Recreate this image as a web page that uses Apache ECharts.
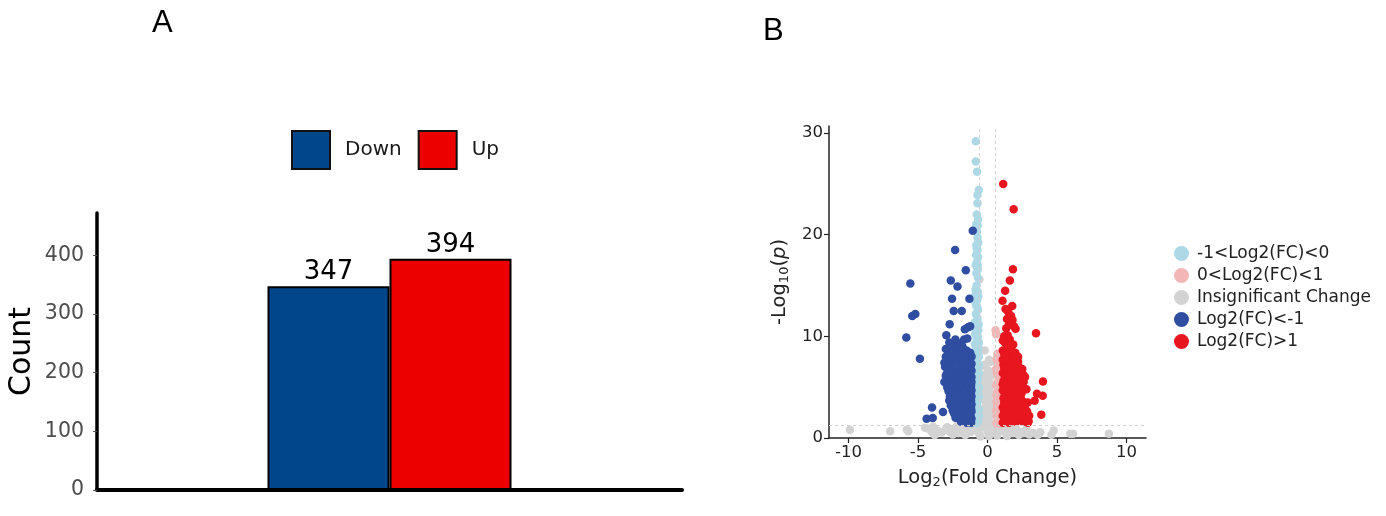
<!DOCTYPE html>
<html>
<head>
<meta charset="utf-8">
<title>DEG count and volcano plot</title>
<script src="https://cdn.jsdelivr.net/npm/echarts@6/dist/echarts.min.js"></script>
<style>
html, body { margin: 0; padding: 0; background: #fff; }
#main { width: 1386px; height: 516px; }
</style>
</head>
<body>
<div id="main"></div>
<script>
/**
 * 数据 (A: 柱状图)
 */
var barCategories = [''];
var barNames = ['Down', 'Up'];
var downCount = [347];
var upCount = [394];
var countTicks = [0, 100, 200, 300, 400];

/**
 * 数据 (B: 火山图) [log2FC, -log10(p)]
 */
var volcanoNames = ['-1<Log2(FC)<0', '0<Log2(FC)<1', 'Insignificant Change', 'Log2(FC)<-1', 'Log2(FC)>1'];
var fcTicks = [-10, -5, 0, 5, 10];
var pTicks = [0, 10, 20, 30];
var fcCut = [-0.585, 0.585];
var pCut = [1.301];

var weakDown = [
	[-0.84,29.2],[-0.84,27.2],[-0.75,26.2],[-0.63,24.4],[-0.72,23.9],[-0.72,23.1],[-0.77,22.0],[-0.82,21.0],
	[-0.7,20.9],[-0.72,19.7],[-0.66,19.2],[-0.8,19.0],[-0.72,18.5],[-0.82,18.0],[-0.68,17.8],[-0.76,17.3],
	[-0.85,17.0],[-0.7,16.6],[-0.78,15.0],[-0.86,14.6],[-0.7,14.4],[-0.9,14.0],[-0.75,13.5],[-0.8,13.0],
	[-0.68,12.6],[-0.84,12.2],[-0.72,11.8],[-0.9,11.4],[-0.78,11.0],[-0.66,10.6],[-0.88,10.2],[-0.74,9.8],
	[-0.62,9.4],[-0.9,9.2],[-0.8,8.8],[-0.68,8.4],[-0.9,8.0],[-0.75,7.6],[-0.62,7.2],[-0.9,6.9],
	[-0.82,6.5],[-0.68,6.1],[-0.9,5.8],[-0.76,5.4],[-0.63,5.0],[-0.9,4.7],[-0.82,4.3],[-0.68,3.9],
	[-0.9,3.6],[-0.76,3.2],[-0.62,2.8],[-0.9,2.5],[-0.82,2.2],[-0.68,1.9],[-0.9,1.6],[-0.75,1.45],
	[-0.7,15.8],[-0.8,16.2],[-0.66,13.9],[-0.86,13.3],[-0.74,12.9],[-0.64,11.2],[-0.84,10.6],[-0.7,10.0],
	[-0.8,9.5],[-0.66,8.9],[-0.86,8.5],[-0.72,8.1],[-0.82,7.3],[-0.68,6.8],[-0.88,6.2],[-0.72,5.7],
	[-0.84,5.1],[-0.7,4.5],[-0.88,4.0],[-0.72,3.5],[-0.84,2.9],[-0.7,2.4],[-0.86,1.9],[-0.7,1.5],
	[-0.76,20.3],[-0.68,21.5],[-0.78,18.7],[-0.7,17.0],[-0.62,6.4],[-0.62,4.1],[-0.62,2.2],[-0.62,8.0]
];
var weakUp = [
	[0.58,10.6],[0.62,10.2],[0.72,8.3],[0.85,8.0],[0.65,7.8],[0.9,7.5],[0.75,7.2],[0.62,6.8],
	[0.88,6.6],[0.7,6.2],[0.9,5.9],[0.8,5.6],[0.63,5.2],[0.9,4.9],[0.72,4.6],[0.9,4.3],
	[0.82,4.0],[0.65,3.6],[0.9,3.3],[0.75,3.0],[0.62,2.7],[0.88,2.4],[0.7,2.1],[0.9,1.9],
	[0.8,1.6],[0.64,1.45],[0.88,1.4],[0.7,7.6],[0.8,7.0],[0.68,6.4],[0.85,5.8],[0.7,5.4],
	[0.82,4.8],[0.66,4.2],[0.86,3.7],[0.7,3.2],[0.82,2.6],[0.66,2.2],[0.86,1.7],[0.75,8.0]
];
var insignificant = [
	[-0.58,15.6],[-0.2,7.2],[-0.14,7.0],[0.25,7.5],[-0.2,6.2],[0.1,6.6],[0.2,6.0],[-0.25,5.6],
	[-0.1,5.2],[0.15,5.0],[0.25,5.3],[-0.25,4.6],[-0.05,4.3],[0.2,4.4],[-0.2,3.8],[-0.1,3.5],
	[0.1,3.6],[0.25,3.3],[-0.25,2.9],[0.0,2.7],[0.2,2.8],[-0.25,2.3],[-0.1,2.1],[0.15,2.0],
	[0.25,2.2],[-0.2,1.7],[0.05,1.6],[0.2,1.5],[-0.15,1.4],[0.1,1.35],[0.1,7.7],[-0.2,8.6],
	[-9.9,0.82],[-7.0,0.66],[-5.8,0.8],[-5.7,0.66],[-4.25,0.92],[-4.0,0.6],[-3.6,0.75],[-3.3,0.55],
	[-3.0,0.85],[-2.7,0.6],[-2.4,0.9],[-2.1,0.5],[-1.8,0.75],[-1.5,1.0],[-1.2,0.6],[-0.9,0.9],
	[-0.6,0.45],[-0.3,1.1],[0.0,0.7],[0.3,0.95],[0.6,0.5],[0.9,1.05],[1.2,0.65],[1.5,0.9],
	[1.8,0.5],[2.1,0.8],[2.4,0.6],[2.6,0.5],[3.0,0.35],[3.3,0.5],[3.6,0.3],[3.8,0.56],
	[4.6,0.33],[4.76,0.75],[5.96,0.43],[6.15,0.43],[8.73,0.43],[-2.2,1.2],[-1.0,1.2],[1.0,1.25],
	[0.1,0.2],[-0.5,0.15],[0.7,0.25],[-1.6,0.3],[1.4,0.2],[-3.8,0.3],[-4.5,1.0],[-3.9,1.1],
	[-2.9,1.05],[-2.5,0.35],[-1.35,0.95],[-0.75,0.7],[0.45,0.8],[1.65,1.1],[2.25,0.3],[2.8,0.9],
	[-0.05,4.9],[0.15,3.9],[-0.05,5.9],[0.2,6.4]
];
var strongDown = [
	[-1.06,20.4],[-2.33,18.5],[-1.56,16.5],[-5.55,15.2],[-2.64,15.5],[-2.16,14.9],[-1.30,13.7],[-2.55,13.7],
	[-2.43,12.5],[-1.85,12.5],[-5.19,12.2],[-5.41,12.0],[-2.72,11.2],[-1.40,10.9],[-1.63,10.7],[-1.25,11.0],
	[-5.84,9.9],[-2.96,10.1],[-2.31,9.7],[-1.68,9.7],[-1.45,9.8],[-3.00,8.75],[-1.95,8.6],[-4.86,7.8],
	[-3.10,7.4],[-3.10,5.5],[-2.64,3.2],[-3.99,3.0],[-3.20,2.56],[-4.38,1.9],[-3.94,1.97],
	[-1.18,1.5],[-1.3,1.6],[-1.5,1.5],[-1.7,1.7],[-1.9,1.6],[-1.2,2.1],[-1.45,2.3],[-1.65,2.2],
	[-1.85,2.5],[-2.05,2.4],[-1.18,2.9],[-1.35,3.1],[-1.6,2.9],[-1.8,3.2],[-2.0,3.0],[-2.2,3.4],
	[-1.18,3.7],[-1.3,3.9],[-1.5,3.6],[-1.75,3.9],[-1.95,4.0],[-2.15,4.2],[-1.2,4.5],[-1.4,4.6],
	[-1.65,4.4],[-1.85,4.8],[-2.05,4.7],[-1.18,5.2],[-1.3,5.4],[-1.55,5.1],[-1.75,5.5],[-1.95,5.3],
	[-2.2,5.6],[-1.2,6.0],[-1.45,6.2],[-1.65,5.9],[-1.85,6.3],[-2.1,6.1],[-1.18,6.7],[-1.35,6.9],
	[-1.55,6.6],[-1.8,7.0],[-2.0,6.8],[-1.25,7.5],[-1.5,7.4],[-1.7,7.7],[-1.95,7.5],[-1.18,8.1],
	[-1.4,8.0],[-1.6,8.3],[-1.15,4.1],[-1.15,2.6],[-1.15,6.0],[-1.15,7.3],
	[-2.3,2.0],[-2.5,2.7],[-2.35,3.0],[-2.45,3.8],[-2.7,4.1],[-2.4,4.5],[-2.6,4.8],[-2.9,5.0],
	[-2.3,5.2],[-2.5,5.6],[-2.75,5.9],[-3.0,6.1],[-2.35,6.0],[-2.6,6.4],[-2.85,6.7],[-3.05,7.0],
	[-2.4,6.8],[-2.65,7.2],[-2.9,7.6],[-2.3,7.5],[-2.55,7.9],[-2.8,8.2],[-2.35,8.3],[-2.6,8.6],
	[-2.2,8.9],[-2.45,9.2],[-2.75,9.4],[-2.1,7.9],[-1.9,8.5],[-2.05,9.3],[-1.8,9.0],[-2.25,3.7],
	[-2.6,3.5],[-2.2,2.7],[-2.8,4.6],
	[-1.22,1.8],[-1.4,1.9],[-1.6,1.8],[-1.8,2.0],[-2.0,1.9],[-1.25,2.6],[-1.55,2.6],[-1.75,2.8],
	[-1.95,2.7],[-1.22,3.4],[-1.45,3.4],[-1.7,3.5],[-1.9,3.6],[-2.1,3.7],[-1.22,4.1],[-1.45,4.2],
	[-1.65,4.0],[-1.85,4.3],[-2.25,4.8],[-1.2,4.8],[-1.5,5.0],[-1.7,4.9],[-2.0,5.2],[-1.22,5.7],
	[-1.4,5.4],[-1.6,5.6],[-1.85,5.8],[-2.05,5.7],[-1.3,6.4],[-1.55,6.2],[-1.75,6.4],[-1.95,6.1],
	[-1.22,7.1],[-1.45,7.0],[-1.65,7.2],[-1.9,7.1],[-1.3,7.8],[-1.55,7.8],[-1.8,7.9],[-1.15,8.0],
	[-1.25,8.4],[-1.5,8.6],[-1.15,1.9],[-1.15,3.3],[-1.15,4.7],[-1.15,5.5],[-1.15,6.6],[-2.4,2.4],
	[-2.55,3.2],[-2.75,3.7],[-2.5,4.2],[-2.7,5.3],[-2.95,5.5],[-2.45,6.4],[-2.7,6.8],[-2.95,6.3],
	[-2.5,7.5],[-2.75,7.8],[-3.0,8.0],[-2.15,2.0],[-2.3,2.9]
];
var strongUp = [
	[1.13,25.0],[1.88,22.5],[1.83,16.6],[1.61,15.5],[1.27,14.5],[1.08,13.5],[1.78,13.0],[1.3,12.7],
	[1.5,12.4],[1.7,12.0],[1.4,11.7],[1.8,11.6],[1.55,11.3],[1.9,11.0],[3.49,10.3],[2.02,10.75],
	[1.35,10.8],[1.2,10.0],[1.45,10.1],[1.6,9.7],[1.85,9.2],[1.25,9.4],[1.7,8.9],[3.99,5.57],
	[3.56,4.36],[3.97,4.16],[3.39,3.67],[3.87,2.3],[2.6,6.2],[2.48,5.1],[2.96,1.64],
	[1.1,1.5],[1.3,1.6],[1.55,1.5],[1.8,1.7],[2.05,1.6],[2.3,1.8],[2.55,1.6],[2.75,1.7],
	[1.1,2.2],[1.35,2.4],[1.6,2.1],[1.85,2.5],[2.1,2.3],[2.4,2.6],[2.65,2.4],[1.1,3.0],
	[1.3,3.2],[1.55,2.9],[1.8,3.3],[2.05,3.1],[2.3,3.4],[2.55,3.6],[1.15,3.9],[1.4,4.1],
	[1.65,3.8],[1.9,4.2],[2.15,4.0],[2.45,4.4],[1.1,4.7],[1.3,4.9],[1.55,4.6],[1.8,5.0],
	[2.05,4.8],[2.3,5.3],[2.6,5.5],[1.15,5.6],[1.4,5.8],[1.65,5.5],[1.9,5.9],[2.15,5.7],
	[2.4,6.1],[1.1,6.4],[1.3,6.6],[1.55,6.3],[1.8,6.8],[2.05,6.5],[2.25,7.0],[1.15,7.2],
	[1.4,7.4],[1.65,7.1],[1.9,7.6],[2.1,7.3],[1.25,8.0],[1.5,8.2],[1.75,7.9],[2.0,8.4],
	[1.1,8.6],[1.35,8.7],[2.2,8.0],[2.5,6.8],[2.7,6.0],[2.8,4.8],[2.9,3.5],[2.7,2.9],
	[3.0,2.2],[1.1,5.3],[1.1,7.7],
	[1.2,1.8],[1.45,1.9],[1.7,1.8],[1.95,2.0],[2.2,1.9],[2.45,2.0],[2.65,1.9],[1.2,2.6],
	[1.5,2.6],[1.75,2.8],[2.0,2.7],[2.25,2.8],[2.5,3.0],[1.2,3.5],[1.45,3.5],[1.7,3.6],
	[1.95,3.7],[2.2,3.6],[2.4,3.9],[1.25,4.3],[1.55,4.3],[1.8,4.5],[2.05,4.4],[2.3,4.6],
	[1.2,5.1],[1.45,5.2],[1.7,5.3],[1.95,5.4],[2.2,5.1],[2.45,5.6],[1.25,6.0],[1.55,6.0],
	[1.8,6.2],[2.05,6.0],[2.3,6.4],[1.2,6.9],[1.45,6.9],[1.7,6.6],[1.95,7.0],[2.2,7.5],
	[1.3,7.7],[1.6,7.7],[1.85,8.1],[1.2,8.3],[1.45,9.0],[1.1,9.6],[2.85,2.6],[2.9,1.5],
	[2.6,4.9]
];

var volcanoData = [weakDown, weakUp, insignificant, strongDown, strongUp];
var volcanoColors = ['#add8e6', '#f2b6b6', '#d3d3d3', '#2f4ea1', '#e8161f'];
//绘制层次: 灰色在最下, 显著点在最上
var volcanoZ = [3, 3, 2, 4, 4];

var fontA = "'DejaVu Sans', 'Liberation Sans', sans-serif";
var fontB = "'DejaVu Sans', sans-serif";

var myChart = echarts.init(document.getElementById('main'), null, {renderer: 'canvas'});

//火山图散点系列
var scatterSeries = [];
for (var i = 0; i < volcanoNames.length; i++) {
	scatterSeries.push({
		name: volcanoNames[i],
		type: 'scatter',
		xAxisIndex: 1,
		yAxisIndex: 1,
		z: volcanoZ[i],
		symbolSize: 8.5,
		itemStyle: {color: volcanoColors[i], opacity: 1},
		data: volcanoData[i]
	});
}
//阈值虚线
scatterSeries[2].markLine = {
	silent: true,
	symbol: 'none',
	label: {show: false},
	lineStyle: {color: '#cfcfcf', type: [3, 3], width: 1},
	data: [
		{xAxis: fcCut[0]},
		{xAxis: fcCut[1]},
		{yAxis: pCut[0]}
	]
};

var subStyle = {fontFamily: fontB, fontSize: 13, color: '#222', verticalAlign: 'bottom', padding: [9, 0, 0, 0]};

var option = {
	backgroundColor: '#fff',
	animation: false,
	title: [
		{text: 'A', left: 147, top: 3, textStyle: {fontFamily: 'Liberation Sans', fontSize: 31, fontWeight: 'normal', color: '#000'}},
		{text: 'B', left: 758, top: 11, textStyle: {fontFamily: 'Liberation Sans', fontSize: 31, fontWeight: 'normal', color: '#000'}}
	],
	legend: [
		{
			data: barNames,
			left: 286,
			top: 125,
			icon: 'rect',
			itemWidth: 38,
			itemHeight: 38,
			itemGap: 16,
			itemStyle: {borderColor: '#111', borderWidth: 2},
			textStyle: {fontFamily: fontA, fontSize: 20, color: '#1a1a1a', padding: [0, 0, 0, 10]}
		},
		{
			data: volcanoNames,
			orient: 'vertical',
			left: 1169,
			top: 240,
			icon: 'circle',
			itemWidth: 15,
			itemHeight: 15,
			itemGap: 5,
			textStyle: {fontFamily: fontB, fontSize: 17, lineHeight: 17, color: '#222', padding: [0, 0, 0, 3]}
		}
	],
	grid: [
		{left: 97, top: 213, width: 585, height: 277, containLabel: false},
		{left: 829, top: 126, width: 317, height: 312, containLabel: false}
	],
	xAxis: [
		{
			gridIndex: 0,
			type: 'category',
			data: barCategories,
			axisLine: {lineStyle: {color: '#000', width: 4}},
			axisTick: {alignWithLabel: true, length: 8, lineStyle: {color: '#444', width: 1.2}},
			axisLabel: {show: false},
			splitLine: {show: false}
		},
		{
			gridIndex: 1,
			type: 'value',
			min: -11.4,
			max: 11.4,
			name: 'Log{sub|2}(Fold Change)',
			nameLocation: 'middle',
			nameGap: 29,
			nameTextStyle: {fontFamily: fontB, fontSize: 19.5, color: '#222', rich: {sub: subStyle}},
			axisLine: {onZero: false, lineStyle: {color: '#222', width: 1.5}},
			axisTick: {length: 5, customValues: fcTicks, lineStyle: {color: '#222', width: 1.2}},
			axisLabel: {customValues: fcTicks, fontFamily: fontB, fontSize: 16.5, color: '#222', margin: 6},
			splitLine: {show: false}
		}
	],
	yAxis: [
		{
			gridIndex: 0,
			type: 'value',
			min: 0,
			max: 472,
			name: 'Count',
			nameLocation: 'middle',
			nameGap: 60,
			nameTextStyle: {fontFamily: fontA, fontSize: 30, color: '#000'},
			axisLine: {show: true, lineStyle: {color: '#000', width: 3.5}},
			axisTick: {show: true, length: 4, customValues: countTicks, lineStyle: {color: '#555', width: 1}},
			axisLabel: {customValues: countTicks, fontFamily: fontA, fontSize: 20.5, color: '#4d4d4d', margin: 13},
			splitLine: {show: false}
		},
		{
			gridIndex: 1,
			type: 'value',
			min: 0,
			max: 30.7,
			name: '-Log{sub|10}({it|p})',
			nameLocation: 'middle',
			nameGap: 38,
			nameTextStyle: {
				fontFamily: fontB, fontSize: 19.5, color: '#222',
				rich: {
					sub: subStyle,
					it: {fontFamily: fontB, fontSize: 19.5, fontStyle: 'italic', color: '#222'}
				}
			},
			axisLine: {show: true, onZero: false, lineStyle: {color: '#222', width: 1.5}},
			axisTick: {show: true, length: 5, customValues: pTicks, lineStyle: {color: '#222', width: 1.2}},
			axisLabel: {customValues: pTicks, fontFamily: fontB, fontSize: 16.5, color: '#222', margin: 6},
			splitLine: {show: false}
		}
	],
	series: [
		{
			name: barNames[0],
			type: 'bar',
			xAxisIndex: 0,
			yAxisIndex: 0,
			barWidth: 122,
			barGap: '0%',
			itemStyle: {color: '#00468b', borderColor: '#000', borderWidth: 2},
			label: {show: true, position: 'top', distance: 1, fontFamily: fontA, fontSize: 26, color: '#000'},
			data: downCount
		},
		{
			name: barNames[1],
			type: 'bar',
			xAxisIndex: 0,
			yAxisIndex: 0,
			barWidth: 122,
			barGap: '0%',
			itemStyle: {color: '#ed0000', borderColor: '#000', borderWidth: 2},
			label: {show: true, position: 'top', distance: 1, fontFamily: fontA, fontSize: 26, color: '#000'},
			data: upCount
		}
	].concat(scatterSeries)
};

myChart.setOption(option);
</script>
</body>
</html>
